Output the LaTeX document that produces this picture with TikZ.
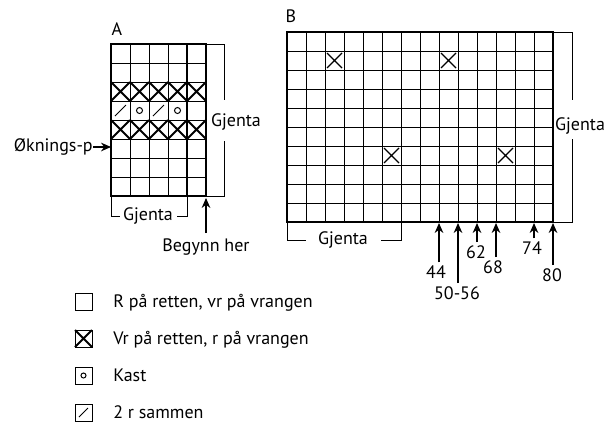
\documentclass[tikz,border=0pt]{standalone}
\usepackage{fontspec}
\setmainfont{PT Sans}
\usetikzlibrary{arrows.meta,positioning}

\begin{document}
\begin{tikzpicture}[x=0.75pt,y=0.75pt,yscale=-1,xscale=1,
    cell/.style={line width=0.75pt},
    frame/.style={line width=1.7pt},
    boldX/.style={line width=1.4pt},
    thinX/.style={line width=0.9pt},
    lbl/.style={font=\fontsize{13.5}{15}\selectfont,inner sep=0pt},
    arr/.style={-{Stealth[length=7.5pt,width=6.5pt]},line width=0.8pt}]
    \useasboundingbox (0,0) rectangle (613,425);
    % Chart A: 5 x 8
    \foreach \i in {0,...,5}
        \draw[cell] (111+19*\i,44) -- (111+19*\i,196);
    \foreach \j in {0,...,8}
        \draw[cell] (111,44+19*\j) -- (206,44+19*\j);
    \foreach \j in {2,4}
        \foreach \i in {0,...,4}
            \draw[boldX] (111+19*\i,44+19*\j) -- ++(19,19) (130+19*\i,44+19*\j) -- ++(-19,19);
    \foreach \i in {0,2}
        \draw[cell] (115+19*\i,116) -- (126+19*\i,105);
    \foreach \i in {1,3}
        \draw[cell] (120.5+19*\i,110.5) circle (3);
    \draw[frame] (111,44) rectangle (206,196);
    \draw[frame] (187,44) -- (187,196);
    \coordinate (A-start) at (206,198);
    \coordinate (A-incr) at (111,147);
    \node[lbl] (labelA) at (117,29) {A};
    % right bracket A
    \node[lbl] (gjentaAr) at (236,122) {Gjenta};
    \draw[cell] (206,44) -- (224,44) -- (224,100);
    \draw[cell] (224,141) -- (224,196) -- (206,196);
    % bottom bracket A
    \node[lbl] (gjentaAb) at (148,216) {Gjenta};
    \draw[cell] (111,196) -- (111,216) -- (120,216);
    \draw[cell] (177,216) -- (187,216) -- (187,196);
    % increase and start
    \node[lbl,anchor=east] (okning) at (93,147) {Øknings-p};
    \draw[arr] (okning.east) -- (A-incr);
    \node[lbl,anchor=north] (begynn) at (206,238) {Begynn her};
    \draw[arr] (206,233) -- (A-start);
    % Chart B: 14 x 10
    \foreach \i in {0,...,14}
        \draw[cell] (287+19*\i,32) -- (287+19*\i,222);
    \foreach \j in {0,...,10}
        \draw[cell] (287,32+19*\j) -- (553,32+19*\j);
    \foreach \i/\j in {2/1,8/1,5/6,11/6}
        \draw[thinX] (289+19*\i,34+19*\j) -- ++(15,15) (304+19*\i,34+19*\j) -- ++(-15,15);
    \draw[frame] (287,32) rectangle (553,222);
    \node[lbl] (labelB) at (291,16) {B};
    % right bracket B
    \node[lbl] (gjentaBr) at (580,126) {Gjenta};
    \draw[cell] (553,32) -- (572,32) -- (572,100);
    \draw[cell] (572,139) -- (572,222) -- (553,222);
    % bottom bracket B
    \node[lbl] (gjentaBb) at (343,240) {Gjenta};
    \draw[cell] (287,222) -- (287,240) -- (306,240);
    \draw[cell] (381,240) -- (401,240) -- (401,222);
    % stitch counts
    \foreach \n/\c/\t/\lx/\ly in {a/8/44/436/272,b/9/50-56/457/293,c/10/62/476/252,d/11/68/493/267,e/13/74/532/248,f/14/80/552/275}{
        \coordinate (B-\n) at (287+19*\c,223);
        \node[lbl] (size-\n) at (\lx,\ly) {\t};
        \draw[arr] (size-\n.north -| B-\n) ++(0,-3) -- (B-\n);
    }
    % legend
    \draw[cell] (75,293) rectangle (92,310);
    \node[lbl,anchor=base west] (leg1) at (113,307.5) {R på retten, vr på vrangen};
    \draw[cell] (75,330) rectangle (92,347);
    \draw[boldX] (75,330) -- (92,347) (92,330) -- (75,347);
    \node[lbl,anchor=base west] (leg2) at (113,344.5) {Vr på retten, r på vrangen};
    \draw[cell] (75,367) rectangle (92,384);
    \draw[cell] (83.5,375.5) circle (2.5);
    \node[lbl,anchor=base west] (leg3) at (113,381.5) {Kast};
    \draw[cell] (75,404) rectangle (92,421);
    \draw[cell] (79,417) -- (88,408);
    \node[lbl,anchor=base west] (leg4) at (113,418.5) {2 r sammen};
\end{tikzpicture}
\end{document}
